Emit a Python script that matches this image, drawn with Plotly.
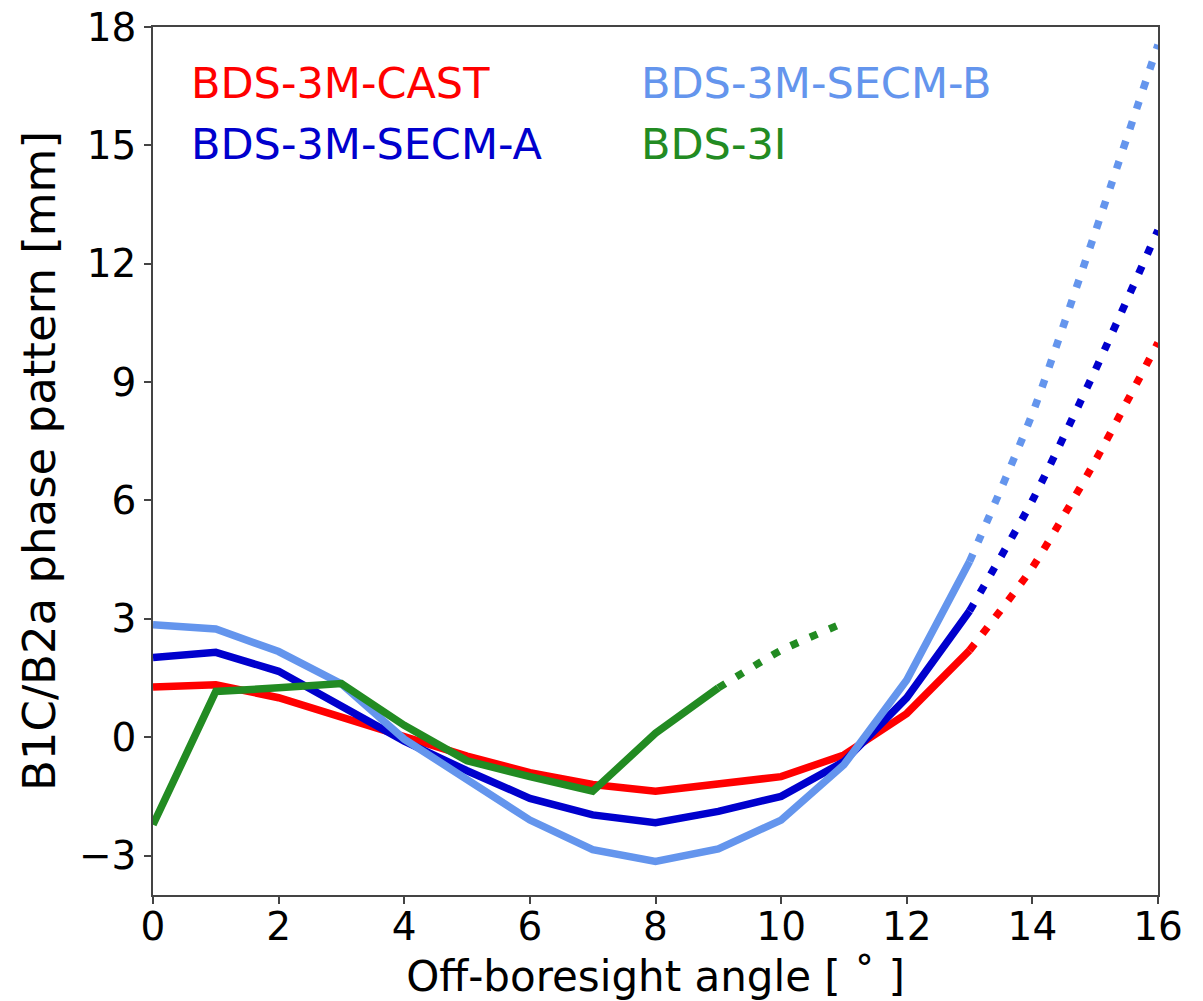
import plotly.graph_objects as go

# Data
angles_solid = [0, 1, 2, 3, 4, 5, 6, 7, 8, 9, 10, 11, 12, 13]
angles_ext = [13, 14, 15, 16]
cast_solid = [1.27, 1.33, 1.0, 0.5, 0.0, -0.48, -0.9, -1.2, -1.37, -1.18, -1.0, -0.45, 0.6, 2.2]
cast_ext = [2.2, 4.3, 7.0, 10.0]
secma_solid = [2.02, 2.15, 1.67, 0.8, -0.1, -0.85, -1.55, -1.97, -2.17, -1.88, -1.5, -0.62, 1.0, 3.2]
secma_ext = [3.2, 6.0, 9.3, 12.85]
secmb_solid = [2.85, 2.74, 2.17, 1.35, -0.05, -1.05, -2.1, -2.85, -3.15, -2.83, -2.1, -0.7, 1.45, 4.45]
secmb_ext = [4.45, 8.2, 12.8, 17.55]
bds3i_angles_solid = [0, 1, 2, 3, 4, 5, 6, 7, 8, 9]
bds3i_solid = [-2.22, 1.16, 1.25, 1.36, 0.3, -0.6, -1.0, -1.37, 0.1, 1.25]
bds3i_angles_ext = [9, 10, 11]
bds3i_ext = [1.25, 2.2, 2.9]

names = ["BDS-3M-CAST", "BDS-3M-SECM-A", "BDS-3M-SECM-B", "BDS-3I"]
colors = ["#FF0000", "#0000CD", "#6495ED", "#228B22"]

x_ticks = [0, 2, 4, 6, 8, 10, 12, 14, 16]
y_ticks = [-3, 0, 3, 6, 9, 12, 15, 18]
y_tick_text = ["\u22123", "0", "3", "6", "9", "12", "15", "18"]

LW = 7.5
DOT = "8px,13px"

fig = go.Figure()

series = [
    (angles_solid, cast_solid, angles_ext, cast_ext, colors[0]),
    (angles_solid, secma_solid, angles_ext, secma_ext, colors[1]),
    (angles_solid, secmb_solid, angles_ext, secmb_ext, colors[2]),
    (bds3i_angles_solid, bds3i_solid, bds3i_angles_ext, bds3i_ext, colors[3]),
]
for name, (xs, ys, xe, ye, c) in zip(names, series):
    fig.add_trace(go.Scatter(x=xe, y=ye, mode="lines", name=name + " (extrapolated)",
                             line=dict(color=c, width=LW, dash=DOT, shape="spline", smoothing=0.6),
                             showlegend=False))
for name, (xs, ys, xe, ye, c) in zip(names, series):
    fig.add_trace(go.Scatter(x=xs, y=ys, mode="lines", name=name,
                             line=dict(color=c, width=LW), showlegend=False))

# Text legend
leg_pos = [(0.036, 0.936), (0.036, 0.865), (0.484, 0.936), (0.484, 0.865)]
for name, c, (px, py) in zip(names, colors, leg_pos):
    fig.add_annotation(text=name, x=px, y=py, xref="paper", yref="paper",
                       xanchor="left", yanchor="middle", showarrow=False,
                       font=dict(family="DejaVu Sans", size=43, color=c))

tick_font = dict(family="DejaVu Sans", size=39, color="black")
fig.update_xaxes(range=[0, 16], tickvals=x_ticks, ticktext=[str(v) for v in x_ticks],
                 showgrid=False, zeroline=False, showline=True, linecolor="#444", linewidth=1.5,
                 mirror=True, ticks="outside", ticklen=7, tickcolor="#444", tickwidth=1.5,
                 tickfont=tick_font, automargin=False, ticklabelstandoff=-11,
                 title=dict(text="Off-boresight angle [ \u02da ]",
                            font=dict(family="DejaVu Sans", size=42, color="black"), standoff=14))
fig.update_yaxes(range=[-4, 18], tickvals=y_ticks, ticktext=y_tick_text,
                 showgrid=False, zeroline=False, showline=True, linecolor="#444", linewidth=1.5,
                 mirror=True, ticks="outside", ticklen=7, tickcolor="#444", tickwidth=1.5,
                 tickfont=tick_font, automargin=False,
                 title=dict(text="B1C/B2a phase pattern [mm]",
                            font=dict(family="DejaVu Sans", size=45, color="black"), standoff=9))

fig.update_layout(width=1203, height=1001, plot_bgcolor="white", paper_bgcolor="white",
                  margin=dict(l=153, r=45, t=27, b=106), showlegend=False)

fig.write_html("out.html")
